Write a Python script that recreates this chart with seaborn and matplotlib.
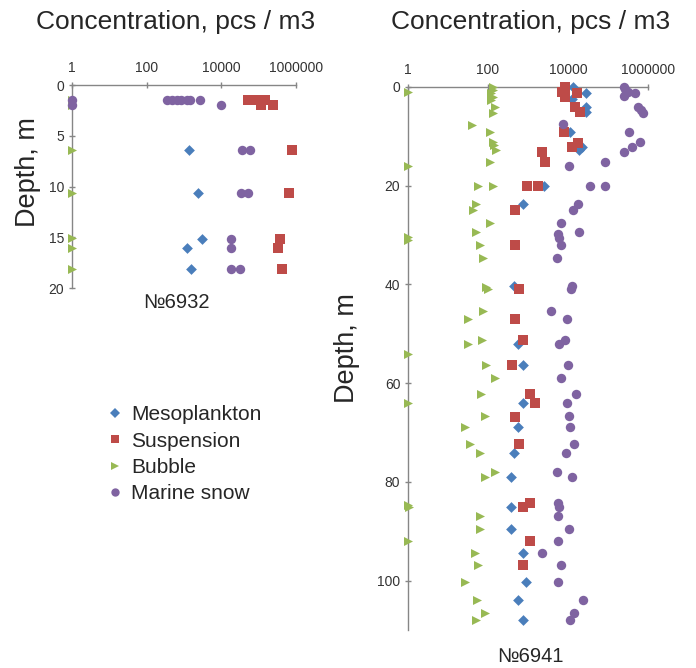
import numpy as np
import pandas as pd
import matplotlib
matplotlib.use("Agg")
import matplotlib.pyplot as plt
from matplotlib.lines import Line2D
import seaborn as sns

# ---------------- data: station №6932 ----------------
a_meso_depth = [6.4, 10.6, 15.2, 16.1, 18.1]
a_meso_conc = [1350, 2300, 2950, 1170, 1510]
a_susp_depth = [1.5, 1.5, 1.5, 1.5, 2.0, 2.0, 6.4, 10.6, 15.2, 16.1, 18.1]
a_susp_conc = [52500, 75900, 105000, 145000, 117500, 240000, 760000, 630000, 380000, 331000, 417000]
a_bub_depth = [1.5, 2.0, 6.4, 10.6, 15.1, 16.1, 18.1]
a_bub_conc = [1, 1, 1, 1, 1, 1, 1]
a_snow_depth = [1.5, 2.0, 1.5, 1.5, 1.5, 1.5, 1.5, 1.5, 1.5, 2.0, 6.4, 6.4, 10.6, 10.6, 15.2, 16.1, 18.1, 18.1]
a_snow_conc = [1, 1, 340, 470, 630, 850, 1170, 1450, 2630, 9550, 36300, 57500, 33100, 51300, 17800, 17800, 17800, 32400]

# ---------------- data: station №6941 ----------------
b_meso_depth = [0, 1.3, 2.4, 4.0, 5.0, 9.1, 12.1, 12.8, 20, 23.7, 40.3, 52.1, 56.3, 64, 68.9, 74.1,
                79.1, 85, 89.5, 94.4, 100.3, 104, 108]
b_meso_conc = [13500, 27500, 12600, 28800, 28800, 11200, 22900, 18600, 2450, 740, 440, 550, 740, 740, 575, 440,
               380, 380, 380, 740, 890, 575, 740]
b_susp_depth = [0, 1.0, 1.2, 2.0, 4.0, 5.0, 9.1, 11.3, 12.1, 13.1, 15.2, 20, 20, 25, 32, 41, 47, 51.2, 56.3,
                62.2, 64, 66.9, 72.3, 84.2, 85, 92, 96.9]
b_susp_conc = [8500, 7200, 17000, 8500, 14800, 20000, 7900, 18200, 12900, 2290, 2690, 930, 1740, 460, 460, 590,
               460, 760, 400, 1150, 1480, 460, 590, 1150, 760, 1150, 760]
b_bub_depth = [1.0, 0, 0.7, 1.3, 2.0, 2.6, 4.0, 5.3, 7.7, 9.1, 11.1, 11.8, 12.8, 16.0, 15.2, 20, 20, 23.7, 24.9,
               27.5, 29.3, 30.3, 31.0, 32.1, 34.6, 40.5, 41, 45.4, 47, 51.2, 52.1, 54, 56.3, 59, 62.2, 64, 66.7,
               68.9, 72.3, 74.1, 78, 79.1, 84.7, 85, 86.9, 89.5, 92, 94.4, 96.9, 100.3, 104, 106.6, 108]
b_bub_conc = [1, 132, 132, 120, 132, 120, 148, 132, 39, 110, 132, 145, 158, 1, 110, 56, 132, 51, 43,
              110, 51, 1, 1, 62, 76, 91, 100, 76, 31, 72, 31, 1, 91, 148, 68, 1, 83,
              26, 35, 62, 148, 83, 1, 1.07, 62, 62, 1, 47, 56, 26, 54, 83, 51]
b_snow_depth = [0, 0.5, 1.0, 1.2, 1.9, 4.0, 4.7, 5.2, 7.5, 9.1, 11.2, 12.1, 13.1, 15.2, 16.0, 20, 20, 23.7,
                24.9, 27.5, 29.3, 29.8, 30.6, 32, 34.6, 40.3, 41, 45.4, 47, 51.2, 52.1, 56.3, 59, 62.2, 64,
                66.7, 68.9, 72.3, 74.1, 78, 79.1, 84.2, 85, 86.9, 89.5, 92, 94.4, 96.9, 100.3, 104, 106.6, 108]
b_snow_conc = [245000, 269000, 324000, 479000, 245000, 575000, 676000, 759000, 7600, 339000, 631000, 398000,
               245000, 83000, 10500, 36300, 83000, 18200, 13500, 6600, 18600, 5500, 6000, 6600, 5200, 12900,
               11700, 3700, 9500, 8300, 6000, 10000, 6600, 16200, 9500, 10500, 11000, 14100, 8700, 5200, 12300,
               5600, 6000, 5600, 10500, 5600, 2240, 6600, 5600, 23400, 14100, 11000]

series_names = ["Mesoplankton", "Suspension", "Bubble", "Marine snow"]
x_ticks = [1, 100, 10000, 1000000]
x_ticklabels = ["1", "100", "10000", "1000000"]
station_labels = ["№6932", "№6941"]

colors = {"Mesoplankton": "#4A7EBB", "Suspension": "#BE4B48", "Bubble": "#98B954", "Marine snow": "#7F63A1"}
markers = {"Mesoplankton": "D", "Suspension": "s", "Bubble": ">", "Marine snow": "o"}
sizes = {"Mesoplankton": 30, "Suspension": 46, "Bubble": 42, "Marine snow": 46}


def make_df(parts):
    rows = []
    for name, depth, conc in parts:
        for d, c in zip(depth, conc):
            rows.append({"series": name, "depth": d, "conc": c})
    return pd.DataFrame(rows)


df_a = make_df([("Mesoplankton", a_meso_depth, a_meso_conc), ("Suspension", a_susp_depth, a_susp_conc),
                ("Bubble", a_bub_depth, a_bub_conc), ("Marine snow", a_snow_depth, a_snow_conc)])
df_b = make_df([("Mesoplankton", b_meso_depth, b_meso_conc), ("Suspension", b_susp_depth, b_susp_conc),
                ("Bubble", b_bub_depth, b_bub_conc), ("Marine snow", b_snow_depth, b_snow_conc)])

sns.set_style("white")
plt.rcParams["font.family"] = ["Liberation Sans", "DejaVu Sans"]

fig = plt.figure(figsize=(6.96, 6.68), dpi=100)
W, H = 696, 668


def ax_rect(x0, y0, x1, y1):
    return [x0 / W, 1 - y1 / H, (x1 - x0) / W, (y1 - y0) / H]


ax1 = fig.add_axes(ax_rect(72, 85, 296, 288))
ax2 = fig.add_axes(ax_rect(408, 87, 648, 630))

axis_gray = "#868686"
for ax, df, ylim, yticks in [(ax1, df_a, 20, [0, 5, 10, 15, 20]),
                             (ax2, df_b, 110, [0, 20, 40, 60, 80, 100])]:
    for name in series_names:
        sub = df[df["series"] == name]
        sns.scatterplot(data=sub, x="conc", y="depth", ax=ax, color=colors[name],
                        marker=markers[name], s=sizes[name], linewidth=0, legend=False,
                        clip_on=False, zorder=3)
    ax.set_xscale("log")
    ax.set_xlim(1, 1000000)
    ax.set_ylim(ylim, 0)
    ax.set_xticks(x_ticks)
    ax.set_xticklabels(x_ticklabels)
    ax.minorticks_off()
    ax.set_yticks(yticks)
    ax.xaxis.tick_top()
    ax.set_xlabel("")
    ax.set_ylabel("")
    for side in ["right", "bottom"]:
        ax.spines[side].set_visible(False)
    for side in ["left", "top"]:
        ax.spines[side].set_visible(True)
        ax.spines[side].set_color(axis_gray)
        ax.spines[side].set_linewidth(1.0)
    ax.tick_params(axis="both", length=5, width=1, color=axis_gray,
                   labelsize=10, labelcolor="#333333")
    ax.tick_params(axis="x", direction="inout", top=True, bottom=False, labeltop=True,
                   labelbottom=False, pad=5)
    ax.tick_params(axis="y", direction="inout", left=True, right=False, pad=3)
    ax.set_facecolor("none")

# titles and labels
fig.text(176 / W, 1 - 22 / H, "Concentration, pcs / m3", ha="center", va="center", fontsize=19)
fig.text(531 / W, 1 - 22 / H, "Concentration, pcs / m3", ha="center", va="center", fontsize=19)
fig.text(28 / W, 1 - 172 / H, "Depth, m", ha="center", va="center", rotation=90, fontsize=19.5)
fig.text(347 / W, 1 - 348 / H, "Depth, m", ha="center", va="center", rotation=90, fontsize=19.5)
fig.text(176 / W, 1 - 302 / H, station_labels[0], ha="center", va="center", fontsize=14.5)
fig.text(530 / W, 1 - 656 / H, station_labels[1], ha="center", va="center", fontsize=14.5)

# legend
handles = [Line2D([], [], linestyle="none", marker=markers[n], color=colors[n],
                  markersize=6 if n != "Mesoplankton" else 5.5, markeredgewidth=0) for n in series_names]
fig.legend(handles, series_names, loc="upper left", bbox_to_anchor=(100 / W, 1 - 397 / H),
           frameon=False, fontsize=15, handlelength=0.6, handletextpad=0.5, labelspacing=0.35,
           borderaxespad=0)

fig.savefig("out.png", dpi=100)
